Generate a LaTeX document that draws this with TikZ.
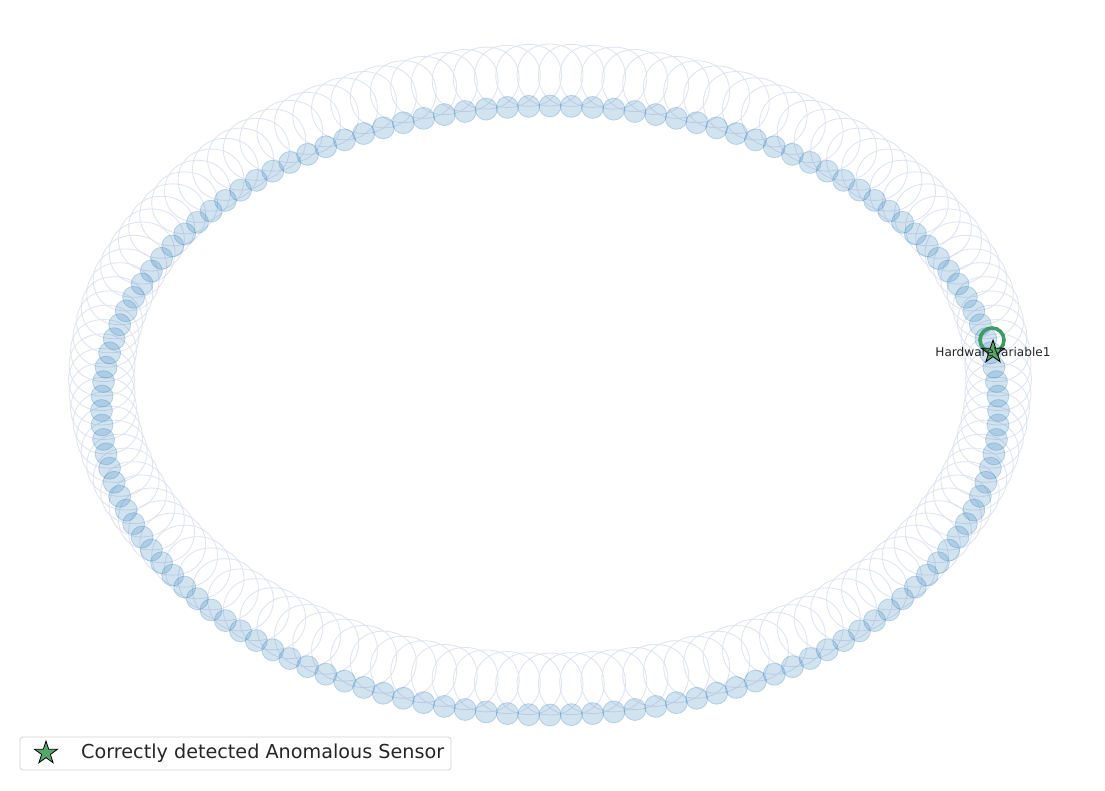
\documentclass[tikz,border=0pt]{standalone}
\usepackage{fontspec}
\setmainfont{DejaVu Sans}
\usetikzlibrary{shapes.geometric}
\definecolor{tabblue}{RGB}{31,119,180}
\definecolor{loopcol}{RGB}{222,226,241}
\definecolor{stargreen}{RGB}{85,168,104}
\definecolor{ringgreen}{RGB}{62,155,100}
\definecolor{txt}{RGB}{38,38,38}
\definecolor{legframe}{RGB}{210,210,210}
\tikzset{
  loopedge/.style={draw=loopcol, line width=0.8pt},
  sensor/.style={circle, minimum size=22pt, inner sep=0pt, fill=tabblue, fill opacity=0.2, draw=tabblue, draw opacity=0.25, line width=0.8pt},
  anomstar/.style={star, star points=5, star point ratio=2.6, minimum size=24pt, inner sep=0pt, fill=stargreen, draw=black, line width=0.8pt},
  ring/.style={circle, minimum size=24pt, inner sep=0pt, draw=ringgreen, line width=3.6pt},
}
\begin{document}
\begin{tikzpicture}[x=1pt,y=-1pt]
\useasboundingbox[fill=white] (0,0) rectangle (1105,790);
% self loops
\foreach \k in {0,...,131}{
  \pgfmathsetmacro\t{90+2.7272727*\k}
  \pgfmathsetmacro\px{550+448.5*cos(\t)}
  \pgfmathsetmacro\py{410.5-304.5*sin(\t)}
  \draw[loopedge] (\px,\py-62) .. controls (\px+44,\py-62) and (\px+44,\py) .. (\px,\py) .. controls (\px-44,\py) and (\px-44,\py-62) .. (\px,\py-62);
}
% sensor nodes
\foreach \k in {0,...,131}{
  \pgfmathsetmacro\t{90+2.7272727*\k}
  \pgfmathsetmacro\px{550+448.5*cos(\t)}
  \pgfmathsetmacro\py{410.5-304.5*sin(\t)}
  \node[sensor] (n\k) at (\px,\py) {};
}
% anomalous sensor
\node[ring] (hwring) at (992,340) {};
\node[anomstar] (hwstar) at (993,352) {};
\node[text=txt, font=\fontsize{12.1}{14}\selectfont, inner sep=0pt] (hwlabel) at (993,352) {HardwareVariable1};
% legend
\node[draw=legframe, fill=white, fill opacity=0.8, text opacity=1, rounded corners=3pt, line width=0.8pt, minimum width=431pt, minimum height=33pt, inner sep=0pt] (legend) at (235.5,753.5) {};
\node[anomstar] (legstar) at (46,753) {};
\node[anchor=west, text=txt, font=\fontsize{19.2}{22}\selectfont, inner sep=0pt] (legtext) at (81,753) {Correctly detected Anomalous Sensor};
\end{tikzpicture}
\end{document}
